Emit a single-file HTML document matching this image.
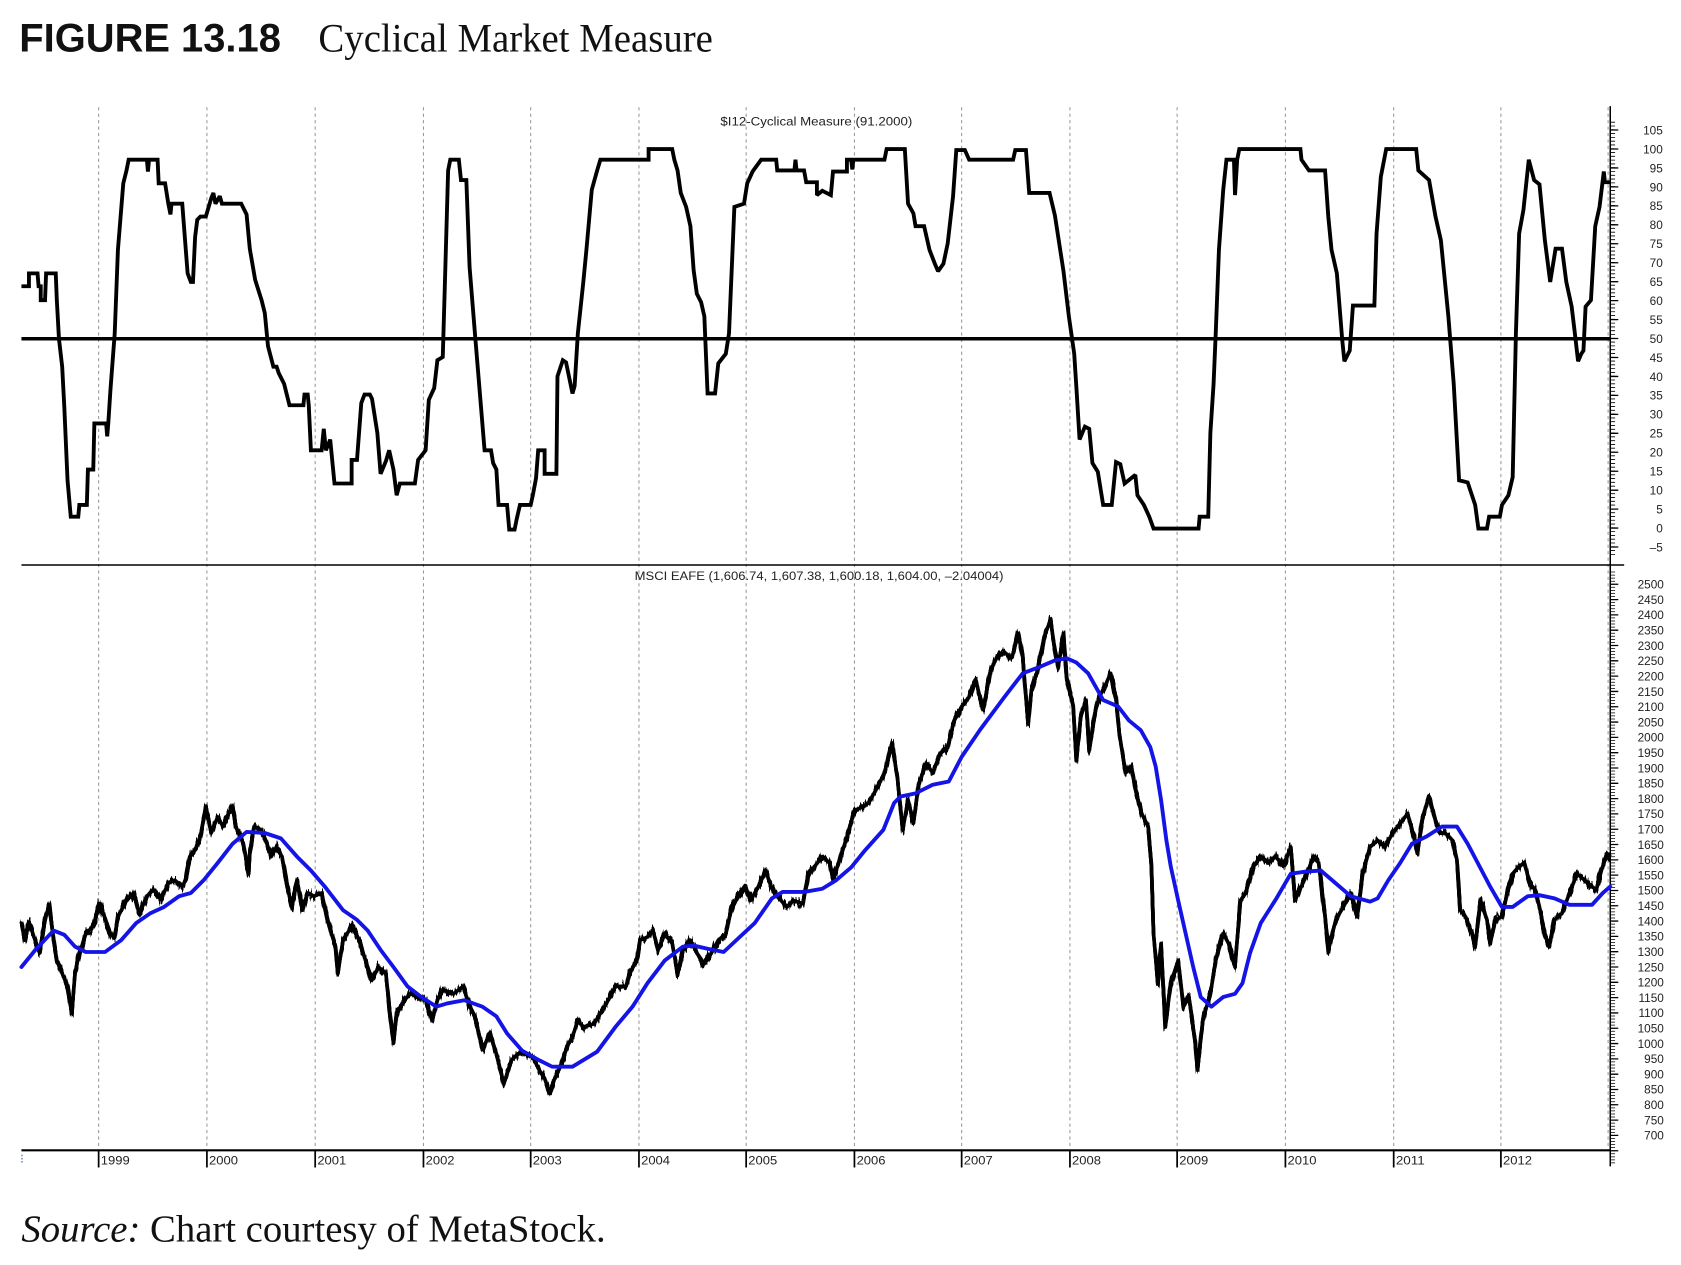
<!DOCTYPE html>
<html>
<head>
<meta charset="utf-8">
<style>
html,body{margin:0;padding:0;background:#fff;}
svg{display:block;}
.ax{font-family:"Liberation Sans",Arial,sans-serif;font-size:11px;fill:#222;}
</style>
</head>
<body>
<svg id="chart" xmlns="http://www.w3.org/2000/svg" width="1681" height="1265" viewBox="0 0 1681 1265">
<defs>
  <filter id="jag" x="-2%" y="-6%" width="104%" height="112%" color-interpolation-filters="sRGB">
    <feTurbulence type="fractalNoise" baseFrequency="0.45 0.004" numOctaves="2" seed="7" result="t"/>
    <feColorMatrix in="t" type="matrix" values="0 0 0 0 0.5  0 1 0 0 0  0 0 0 0 0  0 0 0 0 1" result="m"/>
    <feDisplacementMap in="SourceGraphic" in2="m" scale="16" xChannelSelector="R" yChannelSelector="G"/>
  </filter>
  <filter id="jag2" x="-2%" y="-6%" width="104%" height="112%" color-interpolation-filters="sRGB">
    <feTurbulence type="fractalNoise" baseFrequency="0.6 0.004" numOctaves="2" seed="23" result="t"/>
    <feColorMatrix in="t" type="matrix" values="0 0 0 0 0.5  0 1 0 0 0  0 0 0 0 0  0 0 0 0 1" result="m"/>
    <feDisplacementMap in="SourceGraphic" in2="m" scale="13" xChannelSelector="R" yChannelSelector="G"/>
  </filter>
</defs>
<rect width="1681" height="1265" fill="#fff"/>
<g transform="scale(1.07207)">
  <!-- Title -->
  <text x="18" y="48" font-family="'Liberation Sans',Arial,sans-serif" font-weight="bold" font-size="37" textLength="244" lengthAdjust="spacingAndGlyphs" fill="#111">FIGURE 13.18</text>
  <text x="297" y="48" font-family="'Liberation Serif','Times New Roman',serif" font-size="37" textLength="368" lengthAdjust="spacingAndGlyphs" fill="#111">Cyclical Market Measure</text>

  <!-- dashed gridlines -->
  <g stroke="#9a9a9a" stroke-width="1" stroke-dasharray="3,3">
    <line x1="92" y1="100" x2="92" y2="1073"/>
    <line x1="193" y1="100" x2="193" y2="1073"/>
    <line x1="294" y1="100" x2="294" y2="1073"/>
    <line x1="395" y1="100" x2="395" y2="1073"/>
    <line x1="495" y1="100" x2="495" y2="1073"/>
    <line x1="596" y1="100" x2="596" y2="1073"/>
    <line x1="696" y1="100" x2="696" y2="1073"/>
    <line x1="797" y1="100" x2="797" y2="1073"/>
    <line x1="897" y1="100" x2="897" y2="1073"/>
    <line x1="998" y1="100" x2="998" y2="1073"/>
    <line x1="1098" y1="100" x2="1098" y2="1073"/>
    <line x1="1199" y1="100" x2="1199" y2="1073"/>
    <line x1="1300" y1="100" x2="1300" y2="1073"/>
    <line x1="1400" y1="100" x2="1400" y2="1073"/>
    <line x1="1500" y1="100" x2="1500" y2="1073"/>
  </g>

  <!-- panel labels -->
  <text class="ax" x="672" y="117" font-size="11" textLength="179" lengthAdjust="spacingAndGlyphs">$I12-Cyclical Measure (91.2000)</text>
  <text class="ax" x="592" y="541" font-size="11" textLength="344" lengthAdjust="spacingAndGlyphs">MSCI EAFE (1,606.74, 1,607.38, 1,600.18, 1,604.00, –2.04004)</text>

  <!-- 50 line -->
  <line x1="20" y1="316" x2="1502" y2="316" stroke="#000" stroke-width="3.2"/>
  <!-- separator -->
  <line x1="20" y1="527" x2="1515" y2="527" stroke="#000" stroke-width="1.4"/>
  <!-- bottom axis -->
  <line x1="20" y1="1073" x2="1502" y2="1073" stroke="#000" stroke-width="2"/>
  <!-- right axis -->
  <line x1="1502" y1="99" x2="1502" y2="1088" stroke="#000" stroke-width="1.4"/>
  <!-- top ticks -->
  <line x1="1504.5" y1="113.6" x2="1504.5" y2="518" stroke="#000" stroke-width="4" stroke-dasharray="0.8 2.736"/>
  <line x1="1506" y1="120.7" x2="1506" y2="512" stroke="#000" stroke-width="7" stroke-dasharray="1.2 16.48"/>
  <!-- bottom ticks -->
  <line x1="1504.5" y1="533.2" x2="1504.5" y2="1085" stroke="#000" stroke-width="4" stroke-dasharray="0.7 2.156"/>
  <line x1="1506" y1="544.4" x2="1506" y2="1075" stroke="#000" stroke-width="7" stroke-dasharray="1.2 13.08"/>

  <!-- year ticks -->
  <g stroke="#000" stroke-width="1.6">
    <line x1="92" y1="1073" x2="92" y2="1089"/>
    <line x1="193" y1="1073" x2="193" y2="1089"/>
    <line x1="294" y1="1073" x2="294" y2="1089"/>
    <line x1="395" y1="1073" x2="395" y2="1089"/>
    <line x1="495" y1="1073" x2="495" y2="1089"/>
    <line x1="596" y1="1073" x2="596" y2="1089"/>
    <line x1="696" y1="1073" x2="696" y2="1089"/>
    <line x1="797" y1="1073" x2="797" y2="1089"/>
    <line x1="897" y1="1073" x2="897" y2="1089"/>
    <line x1="998" y1="1073" x2="998" y2="1089"/>
    <line x1="1098" y1="1073" x2="1098" y2="1089"/>
    <line x1="1199" y1="1073" x2="1199" y2="1089"/>
    <line x1="1300" y1="1073" x2="1300" y2="1089"/>
    <line x1="1400" y1="1073" x2="1400" y2="1089"/>
  </g>
  <line x1="20.5" y1="1077" x2="20.5" y2="1086" stroke="#3050d0" stroke-width="1" stroke-dasharray="1.5 1.5"/>
  <g class="ax" font-size="11.5">
    <text x="94" y="1086" textLength="27" lengthAdjust="spacingAndGlyphs">1999</text>
    <text x="195" y="1086" textLength="27" lengthAdjust="spacingAndGlyphs">2000</text>
    <text x="296" y="1086" textLength="27" lengthAdjust="spacingAndGlyphs">2001</text>
    <text x="397" y="1086" textLength="27" lengthAdjust="spacingAndGlyphs">2002</text>
    <text x="497" y="1086" textLength="27" lengthAdjust="spacingAndGlyphs">2003</text>
    <text x="598" y="1086" textLength="27" lengthAdjust="spacingAndGlyphs">2004</text>
    <text x="698" y="1086" textLength="27" lengthAdjust="spacingAndGlyphs">2005</text>
    <text x="799" y="1086" textLength="27" lengthAdjust="spacingAndGlyphs">2006</text>
    <text x="899" y="1086" textLength="27" lengthAdjust="spacingAndGlyphs">2007</text>
    <text x="1000" y="1086" textLength="27" lengthAdjust="spacingAndGlyphs">2008</text>
    <text x="1100" y="1086" textLength="27" lengthAdjust="spacingAndGlyphs">2009</text>
    <text x="1201" y="1086" textLength="27" lengthAdjust="spacingAndGlyphs">2010</text>
    <text x="1302" y="1086" textLength="27" lengthAdjust="spacingAndGlyphs">2011</text>
    <text x="1402" y="1086" textLength="27" lengthAdjust="spacingAndGlyphs">2012</text>
  </g>

  <!-- top axis labels -->
  <g class="ax" text-anchor="end">
    <text x="1551" y="125.3">105</text>
    <text x="1551" y="143">100</text>
    <text x="1551" y="160.7">95</text>
    <text x="1551" y="178.4">90</text>
    <text x="1551" y="196">85</text>
    <text x="1551" y="213.7">80</text>
    <text x="1551" y="231.4">75</text>
    <text x="1551" y="249.1">70</text>
    <text x="1551" y="266.8">65</text>
    <text x="1551" y="284.4">60</text>
    <text x="1551" y="302.1">55</text>
    <text x="1551" y="319.8">50</text>
    <text x="1551" y="337.5">45</text>
    <text x="1551" y="355.2">40</text>
    <text x="1551" y="372.8">35</text>
    <text x="1551" y="390.5">30</text>
    <text x="1551" y="408.2">25</text>
    <text x="1551" y="425.9">20</text>
    <text x="1551" y="443.6">15</text>
    <text x="1551" y="461.2">10</text>
    <text x="1551" y="478.9">5</text>
    <text x="1551" y="496.6">0</text>
    <text x="1551" y="514.3">–5</text>
  </g>
  <!-- bottom axis labels -->
  <g class="ax" text-anchor="end">
    <text x="1552" y="549">2500</text>
    <text x="1552" y="563.3">2450</text>
    <text x="1552" y="577.6">2400</text>
    <text x="1552" y="591.8">2350</text>
    <text x="1552" y="606.1">2300</text>
    <text x="1552" y="620.4">2250</text>
    <text x="1552" y="634.7">2200</text>
    <text x="1552" y="649">2150</text>
    <text x="1552" y="663.2">2100</text>
    <text x="1552" y="677.5">2050</text>
    <text x="1552" y="691.8">2000</text>
    <text x="1552" y="706.1">1950</text>
    <text x="1552" y="720.4">1900</text>
    <text x="1552" y="734.6">1850</text>
    <text x="1552" y="748.9">1800</text>
    <text x="1552" y="763.2">1750</text>
    <text x="1552" y="777.5">1700</text>
    <text x="1552" y="791.8">1650</text>
    <text x="1552" y="806">1600</text>
    <text x="1552" y="820.3">1550</text>
    <text x="1552" y="834.6">1500</text>
    <text x="1552" y="848.9">1450</text>
    <text x="1552" y="863.2">1400</text>
    <text x="1552" y="877.4">1350</text>
    <text x="1552" y="891.7">1300</text>
    <text x="1552" y="906">1250</text>
    <text x="1552" y="920.3">1200</text>
    <text x="1552" y="934.6">1150</text>
    <text x="1552" y="948.8">1100</text>
    <text x="1552" y="963.1">1050</text>
    <text x="1552" y="977.4">1000</text>
    <text x="1552" y="991.7">950</text>
    <text x="1552" y="1006">900</text>
    <text x="1552" y="1020.2">850</text>
    <text x="1552" y="1034.5">800</text>
    <text x="1552" y="1048.8">750</text>
    <text x="1552" y="1063.1">700</text>
  </g>

  <!-- cyclical measure -->
  <polyline fill="none" stroke="#000" stroke-width="3.6" stroke-linejoin="miter" stroke-miterlimit="2" points="20,267 27,267 27,255 35,255 36,267 38,267 38,280 42,280 43,255 52,255 53,280 55,316 58,342 60,380 63,448 66,482 73,482 74,471 81,471 82,438 87,438 88,395 99,395 100,407 101,395 103,364 107,311 110,233 115,171 118,159 120,149 137,149 138,160 139,149 147,149 148,171 154,171 157,190 159,200 160,190 170,190 175,255 178,263 180,263 182,221 184,205 187,202 192,202 197,185 199,180 201,190 205,183 207,190 225,190 230,200 233,232 238,261 244,280 247,292 250,323 255,342 258,342 260,348 265,358 270,378 283,378 284,368 287,368 288,378 290,420 300,420 302,400 304,420 308,410 312,451 328,451 328,429 333,429 337,376 340,368 345,368 347,372 352,404 355,442 360,430 363,420 367,438 370,462 373,451 387,451 390,429 397,420 400,373 405,362 408,336 413,333 415,264 418,159 420,149 428,149 430,168 435,168 438,249 443,311 452,420 458,420 460,432 463,438 465,471 473,471 475,494 480,494 482,484 485,471 495,471 497,462 500,446 502,420 508,420 508,442 519,442 520,351 525,336 528,338 534,367 536,360 539,311 544,264 547,233 552,177 557,159 560,149 605,149 605,139 627,139 629,149 632,159 635,180 640,193 644,211 647,252 650,274 654,282 657,295 660,367 667,367 670,339 677,330 680,311 685,193 694,190 697,171 702,160 710,149 724,149 725,159 741,159 742,149 743,159 750,159 752,170 762,170 762,182 767,178 775,182 777,160 790,160 790,149 794,149 795,158 796,149 825,149 827,139 844,139 847,190 852,199 854,211 862,211 867,233 872,246 875,253 880,246 884,227 889,183 892,140 900,140 904,149 945,149 947,140 957,140 960,180 979,180 984,201 992,253 997,295 1002,330 1004,361 1007,410 1012,398 1016,400 1019,432 1024,440 1029,471 1037,471 1041,431 1045,433 1049,451 1059,443 1061,462 1067,471 1072,482 1076,493 1118,493 1119,482 1127,482 1129,404 1132,358 1134,311 1137,233 1141,177 1144,149 1151,149 1152,182 1154,149 1156,139 1213,139 1214,149 1221,159 1236,159 1239,202 1242,233 1247,255 1252,317 1254,337 1259,327 1262,285 1282,285 1284,218 1288,165 1293,139 1321,139 1323,159 1333,168 1339,202 1344,224 1351,295 1356,358 1361,448 1369,450 1376,471 1379,493 1387,493 1389,482 1399,482 1401,471 1407,462 1411,445 1414,311 1417,218 1421,196 1426,149 1431,168 1436,172 1441,224 1446,263 1451,232 1457,232 1461,263 1466,286 1469,311 1472,337 1475,330 1477,327 1479,286 1484,280 1488,211 1492,193 1496,160 1497,170 1502,170"/>

  <!-- price -->
  <g>
  <polyline id="price" fill="none" stroke="#000" stroke-width="3.4" stroke-linejoin="round" points="20,860 23,877 27,860 32,875 37,889 42,858 46,844 50,877 53,896 58,908 63,920 67,945 70,908 73,893 80,871 87,864 93,843 100,862 103,871 107,874 110,855 118,840 125,833 130,852 137,836 143,830 150,839 157,824 163,821 170,827 173,821 177,799 182,793 187,780 192,752 197,777 203,762 208,771 213,759 217,752 220,771 227,787 232,815 233,795 237,771 243,774 248,784 253,799 258,790 263,799 267,821 272,846 277,821 282,849 287,833 293,836 300,833 307,864 313,883 315,908 320,877 328,864 335,877 340,893 347,914 353,902 360,908 363,939 367,973 370,945 377,933 383,927 390,930 397,933 403,952 408,933 413,923 423,927 432,920 437,936 443,948 450,979 457,964 463,983 470,1011 477,989 483,983 490,983 497,986 503,998 508,1006 513,1020 517,1007 524,992 529,976 534,967 539,952 544,958 554,955 562,942 569,930 574,920 584,920 587,908 594,896 597,877 604,874 609,868 614,886 620,871 627,880 632,908 637,886 644,877 650,889 657,899 663,890 670,877 677,871 682,849 690,833 695,826 700,840 709,824 714,812 719,826 725,836 734,846 740,840 749,843 754,815 760,808 767,799 774,805 777,821 784,799 790,781 797,756 804,753 810,749 817,737 825,721 832,693 837,725 842,774 847,746 852,768 857,731 864,712 870,721 877,703 884,697 890,672 897,659 904,650 910,634 917,662 924,625 930,613 937,609 944,613 950,591 954,613 959,675 962,644 967,628 974,594 980,578 983,600 987,622 992,591 995,634 1001,659 1004,709 1008,669 1013,653 1016,700 1022,662 1027,647 1032,637 1036,628 1041,653 1044,684 1050,721 1055,715 1060,740 1065,759 1071,771 1074,808 1076,871 1080,917 1083,880 1087,958 1092,917 1099,896 1104,939 1109,930 1115,973 1117,998 1122,951 1129,927 1134,896 1141,871 1146,880 1152,902 1157,840 1162,833 1169,808 1176,799 1183,805 1190,799 1197,808 1204,790 1208,840 1211,833 1218,818 1225,799 1230,805 1236,855 1239,886 1246,858 1253,846 1260,833 1266,855 1271,815 1278,790 1285,784 1292,790 1299,777 1306,768 1313,759 1318,777 1322,796 1327,762 1333,743 1338,762 1343,777 1348,777 1355,784 1359,802 1362,849 1367,855 1373,871 1376,883 1381,840 1387,858 1390,880 1395,858 1401,855 1406,833 1411,815 1417,808 1422,805 1427,824 1432,830 1436,846 1441,871 1445,883 1450,858 1457,852 1464,833 1471,815 1478,821 1485,827 1489,830 1494,811 1499,796 1502,799"/>
  <use href="#price" filter="url(#jag)"/>
  <use href="#price" filter="url(#jag2)"/>
  </g>

  <!-- moving average -->
  <polyline fill="none" stroke="#1414e6" stroke-width="3.6" stroke-linejoin="round" stroke-linecap="round" points="20,902 33,886 50,868 60,872 70,883 80,888 98,888 113,877 127,861 140,852 153,846 167,836 178,833 190,821 203,805 217,787 230,776 247,777 262,782 277,799 290,812 303,827 320,849 333,858 343,868 355,886 367,902 380,920 393,930 407,939 417,936 433,933 450,939 463,948 473,964 487,980 503,989 515,995 534,995 557,981 574,958 590,939 604,917 620,896 637,883 647,882 660,885 675,888 690,874 704,861 720,838 730,832 750,832 767,829 780,821 794,809 807,793 824,774 834,749 840,743 854,740 870,732 885,729 897,706 914,681 937,650 954,628 970,622 984,616 995,614 1004,618 1015,628 1029,653 1043,659 1053,672 1064,681 1073,697 1078,715 1083,746 1088,784 1092,808 1099,840 1106,871 1113,902 1120,930 1130,939 1141,930 1152,927 1159,917 1166,889 1176,861 1190,839 1204,815 1218,813 1232,812 1246,824 1260,836 1278,841 1285,838 1295,821 1306,805 1317,787 1331,780 1345,771 1359,771 1369,787 1380,808 1390,827 1401,846 1411,846 1425,836 1436,835 1450,838 1464,844 1485,844 1495,833 1502,827"/>

  <!-- source -->
  <text x="20" y="1158" font-family="'Liberation Serif','Times New Roman',serif" font-size="36" textLength="545" lengthAdjust="spacingAndGlyphs" fill="#111"><tspan font-style="italic">Source:</tspan> Chart courtesy of MetaStock.</text>
</g>
</svg>
</body>
</html>
